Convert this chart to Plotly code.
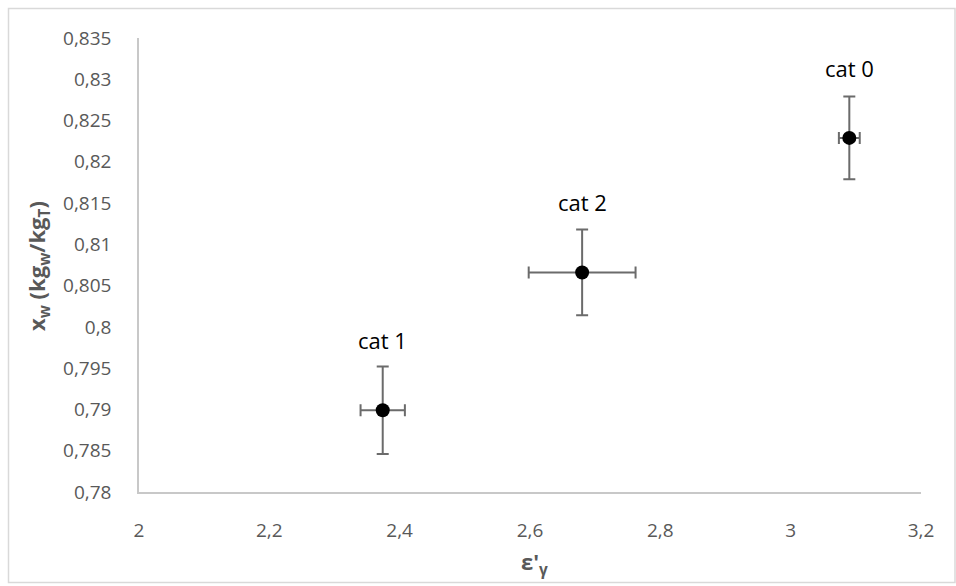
import plotly.graph_objects as go

categories = ["cat 0", "cat 1", "cat 2"]
eps_gamma = [3.090, 2.374, 2.680]
x_w = [0.8229, 0.7899, 0.8066]
err_x = [0.016, 0.034, 0.082]
err_y = [0.0050, 0.0053, 0.0052]

W, H = 956, 586
L, R, T, B = 139, 35, 38, 94
pw, ph = W - L - R, H - T - B

FONT = "Open Sans, Liberation Sans, sans-serif"

fig = go.Figure()
fig.add_trace(go.Scatter(
    x=eps_gamma, y=x_w, mode="markers",
    marker=dict(color="black", size=14),
    error_x=dict(type="data", array=err_x, visible=True, color="#6b6b6b", thickness=2, width=6),
    error_y=dict(type="data", array=err_y, visible=True, color="#6b6b6b", thickness=2, width=6),
    showlegend=False,
))

for c, xv, yv in zip(categories, eps_gamma, x_w):
    fig.add_annotation(x=xv, y=yv, text=c, showarrow=False, yshift=70,
                       font=dict(family=FONT, size=22, color="black"))

tick_font = dict(family=FONT, size=19, color="#595959")

yticks = [0.78 + 0.005 * i for i in range(12)]
xticks = [2 + 0.2 * i for i in range(7)]

def fmt(v):
    return ("%g" % round(v, 3)).replace(".", ",")

fig.update_layout(
    width=W, height=H,
    margin=dict(l=L, r=R, t=T, b=B),
    plot_bgcolor="white", paper_bgcolor="white",
    xaxis=dict(range=[2, 3.2], tickvals=xticks, ticktext=[fmt(v) for v in xticks],
               showgrid=False, zeroline=False, showline=True, linecolor="#c8c8c8", linewidth=1.5,
               ticks="", tickfont=tick_font, ticklabelstandoff=20),
    yaxis=dict(range=[0.78, 0.835], tickvals=yticks, ticktext=[fmt(v) for v in yticks],
               showgrid=False, zeroline=False, showline=True, linecolor="#c8c8c8", linewidth=1.5,
               ticks="", tickfont=tick_font, ticklabelstandoff=22),
)

title_font = dict(family=FONT, size=22, color="#595959")
fig.add_annotation(xref="paper", yref="paper", x=(534 - L) / pw, y=(H - B - 563) / ph,
                   text="<b>ε'<sub>γ</sub></b>", showarrow=False, font=title_font,
                   xanchor="center", yanchor="middle")
fig.add_annotation(xref="paper", yref="paper", x=(38 - L) / pw, y=(H - B - 266) / ph,
                   text="<b>x<sub>w</sub> (kg<sub>w</sub>/kg<sub>T</sub>)</b>", showarrow=False,
                   font=title_font, textangle=-90, xanchor="center", yanchor="middle")

fig.add_shape(type="rect", xref="paper", yref="paper",
              x0=(8.5 - L) / pw, x1=(955 - L) / pw,
              y0=(H - B - 582.5) / ph, y1=(H - B - 8.5) / ph,
              line=dict(color="#d9d9d9", width=1.5), fillcolor="rgba(0,0,0,0)", layer="below")

fig.write_html("out.html")
